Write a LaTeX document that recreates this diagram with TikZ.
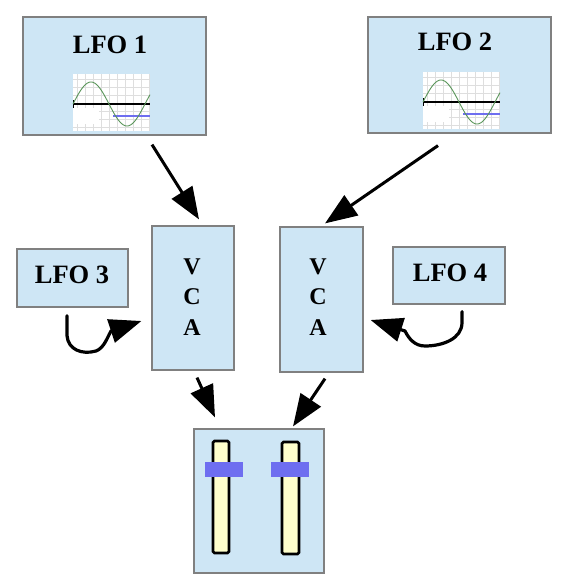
\documentclass[tikz,border=0pt]{standalone}
\usepackage{fontspec}
\setmainfont{Liberation Serif}
\usetikzlibrary{arrows.meta,calc}
\definecolor{boxfill}{RGB}{206,230,245}
\definecolor{boxline}{RGB}{128,128,128}
\definecolor{barblue}{RGB}{110,110,240}
\definecolor{slideryellow}{RGB}{255,255,204}
\definecolor{gridgray}{RGB}{222,222,222}
\definecolor{wavegreen}{RGB}{90,150,90}
\tikzset{
  box/.style={draw=boxline, fill=boxfill, line width=1.2pt, inner sep=0pt},
  lbl/.style={font=\fontsize{26.5}{30}\selectfont\bfseries, inner sep=0pt},
  vcalbl/.style={font=\fontsize{24}{30.5}\selectfont\bfseries, align=center, inner sep=0pt},
  arr/.style={line width=3pt, -{Triangle[length=32pt,width=24pt]}},
  carr/.style={line width=3.2pt, line cap=round, line join=round, -{Triangle[length=32pt,width=24pt]}},
  wave/.pic={
    \fill[white] (0,0) rectangle (77,57);
    \foreach \gx in {4,12,...,76} \draw[gridgray, line width=0.6pt] (\gx,0) -- (\gx,57);
    \foreach \gy in {5,13,...,56} \draw[gridgray, line width=0.6pt] (0,\gy) -- (77,\gy);
    \fill[white] (0,34) rectangle (26,50);
    \draw[black, line width=1.6pt] (0,30) -- (77,30);
    \draw[black, line width=1.2pt] (0.5,26) -- (0.5,34);
    \draw[barblue, line width=2.6pt] (40,42) -- (77,42);
    \draw[wavegreen, line width=0.9pt] plot[domain=0:77, samples=80, smooth] (\x, {30 - 22*sin(5*\x)});
  }
}
\begin{document}
\begin{tikzpicture}[x=1pt, y=-1pt]
\useasboundingbox (0,0) rectangle (571,586);

% boxes
\node[box, minimum width=183pt, minimum height=118pt] (lfo1) at (114.5,76) {};
\node[box, minimum width=183pt, minimum height=116pt] (lfo2) at (459.5,75) {};
\node[box, minimum width=111pt, minimum height=58pt] (lfo3) at (72.5,278) {};
\node[box, minimum width=112pt, minimum height=57pt] (lfo4) at (449,275.5) {};
\node[box, minimum width=82pt, minimum height=144pt] (vca1) at (193,298) {};
\node[box, minimum width=83pt, minimum height=145pt] (vca2) at (321.5,299.5) {};
\node[box, minimum width=130pt, minimum height=144pt] (mix) at (259,501) {};

% labels
\node[lbl] (t1) at (110,45) {LFO 1};
\node[lbl] (t2) at (455,42) {LFO 2};
\node[lbl] (t3) at (72,275) {LFO 3};
\node[lbl] (t4) at (450,273) {LFO 4};
\node[vcalbl] (v1) at (192,297) {V\\C\\A};
\node[vcalbl] (v2) at (318,297) {V\\C\\A};

% wave pictures
\pic at (73,74) {wave};
\pic at (423,72) {wave};

% sliders
\draw[fill=slideryellow, line width=2.8pt, rounded corners=1.5pt] (213,441) rectangle (229,553);
\draw[fill=slideryellow, line width=2.8pt, rounded corners=1.5pt] (282,442) rectangle (299,554);
\fill[barblue] (205,462) rectangle (243,477);
\fill[barblue] (271,462) rectangle (309,477);

% connector end points
\coordinate (s1) at ($(lfo1.south)+(37.5,9)$);
\coordinate (e1) at ($(vca1.north)+(6,-6)$);
\coordinate (s2) at ($(lfo2.south)+(-21.5,12)$);
\coordinate (e2) at ($(vca2.north)+(3.5,-3)$);
\coordinate (s3) at ($(vca1.south)+(4,7)$);
\coordinate (e3) at ($(mix.north)+(-44,-11)$);
\coordinate (s4) at ($(vca2.south)+(3.5,6)$);
\coordinate (e4) at ($(mix.north)+(34,-2)$);
\coordinate (s5) at ($(lfo3.south)+(-5.5,8)$);
\coordinate (e5) at ($(vca1.west)+(-10,23)$);
\coordinate (s6) at ($(lfo4.south)+(13,7)$);
\coordinate (e6) at ($(vca2.east)+(7,20.5)$);

% arrows
\draw[arr] (s1) -- (e1);
\draw[arr] (s2) -- (e2);
\draw[arr] (s3) -- (e3);
\draw[arr] (s4) -- (e4);
\draw[carr] (s5) -- ++(0,20) .. controls +(1,14) and (82,355) .. (96,351)
   .. controls (104,348) and (107,338) .. (111,331) -- (e5);
\draw[carr] (s6) -- ++(0,11) .. controls +(0,16) and (443,346) .. (425,346)
   .. controls (415,346) and (409,339) .. (405,331) -- (e6);
\end{tikzpicture}
\end{document}
